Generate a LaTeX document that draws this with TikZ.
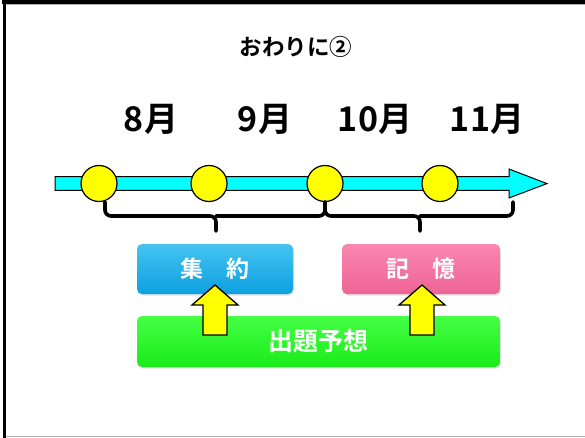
\documentclass[tikz,border=0pt]{standalone}
\usepackage{fontspec}
\newfontfamily\jp[BoldFont={Noto Sans CJK JP Bold}]{Noto Sans CJK JP}
\newfontfamily\digits{Liberation Sans}
\usetikzlibrary{shadows}
\definecolor{barcyan}{RGB}{0,255,255}
\definecolor{dotyellow}{RGB}{255,255,0}
\definecolor{bluetop}{RGB}{70,195,240}
\definecolor{bluebot}{RGB}{12,160,225}
\definecolor{pinktop}{RGB}{250,135,175}
\definecolor{pinkbot}{RGB}{238,100,148}
\definecolor{greentop}{RGB}{70,255,70}
\definecolor{greenbot}{RGB}{25,235,25}
\definecolor{frameshade}{RGB}{175,175,175}
\begin{document}
\begin{tikzpicture}[x=1pt,y=-1pt,
  month/.style={font=\jp\bfseries\fontsize{34}{34}\selectfont, inner sep=0pt},
  dot/.style={circle, draw=black, line width=1.2pt, fill=dotyellow, minimum size=36pt, inner sep=0pt},
  bracepath/.style={line width=3.6pt, rounded corners=6pt, line cap=round},
  box/.style={rounded corners=5pt, inner sep=0pt, text=white,
     drop shadow={opacity=0.25, shadow xshift=1pt, shadow yshift=-1.5pt}},
  boxtext/.style={font=\jp\bfseries\fontsize{23}{23}\selectfont},
  uparrow/.style={draw=black, line width=1.3pt, fill=dotyellow, line join=miter}
]
\useasboundingbox (0,0) rectangle (585,438);
% frame
\fill[black] (2,0.5) rectangle (585,4);
\fill[black] (2.5,0) rectangle (5.5,438);
\draw[frameshade, line width=1pt] (5.5,4.8) -- (585,4.8);
\draw[frameshade, line width=1.6pt] (5.5,436.6) -- (585,436.6);

% title
\node[font=\jp\bfseries\fontsize{22.5}{22.5}\selectfont, inner sep=0pt] (title) at (296,47) {おわりに②};

% months
\node[month] (m8) at (151,119) {8月};
\node[month] (m9) at (265,119) {9月};
\node[month] (m10) at (375,119) {10月};
\node[month] (m11) at (487,119) {11月};

% timeline arrow
\draw[fill=barcyan, draw=black, line width=1pt, line join=miter]
  (55,176.7) -- (509,176.7) -- (509,169) -- (547,183.6) -- (509,198) -- (509,190.5) -- (55,190.5) -- cycle;

% circles
\node[dot] (c1) at (99,183.5) {};
\node[dot] (c2) at (209,183.5) {};
\node[dot] (c3) at (325,183.5) {};
\node[dot] (c4) at (440,183.5) {};
\coordinate (end) at (513,202);

% braces
\coordinate (b1) at (216,216);
\coordinate (b2) at (420,216);
\draw[bracepath] (105,202) -- (105,216) -- (216,216) -- (216,231);
\draw[bracepath] (c3.south |- 0,202) -- (325,216) -- (216,216);
\draw[bracepath] (c3.south |- 0,202) -- (325,216) -- (420,216) -- (420,231);
\draw[bracepath] (end) -- (513,216) -- (420,216);

% boxes
\node[box, top color=bluetop, bottom color=bluebot, minimum width=156pt, minimum height=50pt, boxtext] (shuyaku) at (215,269) {集　約};
\node[box, top color=pinktop, bottom color=pinkbot, minimum width=158pt, minimum height=50pt, boxtext] (kioku) at (421,269) {記　憶};
\node[box, top color=greentop, bottom color=greenbot, minimum width=363pt, minimum height=51pt, font=\jp\bfseries\fontsize{25}{25}\selectfont] (yoso) at (318.5,341.5) {出題予想};

% yellow up arrows
\foreach \cx in {215,422}{
  \draw[uparrow] (\cx,285) -- (\cx+23,305) -- (\cx+12,305) -- (\cx+12,335)
     -- (\cx-12,335) -- (\cx-12,305) -- (\cx-23,305) -- cycle;
}
\end{tikzpicture}
\end{document}
